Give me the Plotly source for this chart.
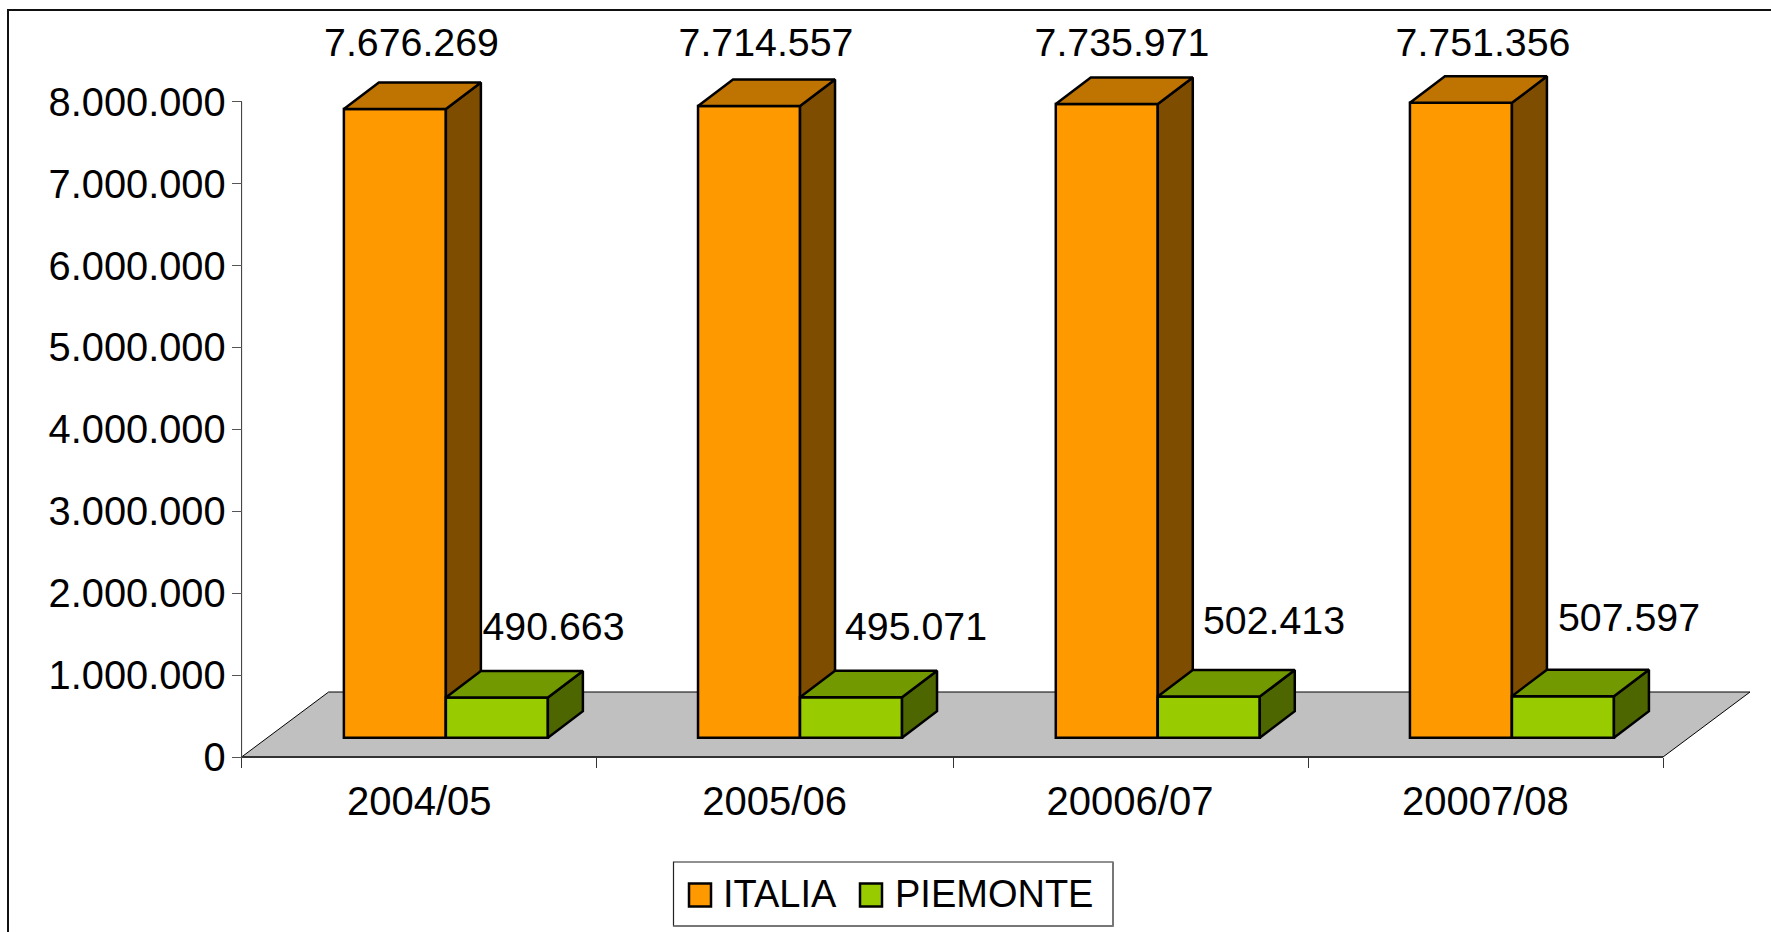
import plotly.graph_objects as go

W, H = 1771, 932

categories = ['2004/05', '2005/06', '20006/07', '20007/08']
italia = [7676269, 7714557, 7735971, 7751356]
piemonte = [490663, 495071, 502413, 507597]
italia_labels = ['7.676.269', '7.714.557', '7.735.971', '7.751.356']
piemonte_labels = ['490.663', '495.071', '502.413', '507.597']
y_ticks = [0, 1000000, 2000000, 3000000, 4000000, 5000000, 6000000, 7000000, 8000000]
y_tick_labels = ['0', '1.000.000', '2.000.000', '3.000.000', '4.000.000',
                 '5.000.000', '6.000.000', '7.000.000', '8.000.000']

# page pixels <-> axis units, the axes fill the whole page
X0_PX, Y0_PX = 241.6, 757
PX_PER_CAT = 355.35
PX_PER_UNIT = 81.9 / 1000000

def dx(px):
    return px / PX_PER_CAT

def dy(px):
    return px / PX_PER_UNIT

def px_x(px):
    return (px - X0_PX) / PX_PER_CAT

def px_y(px):
    return (Y0_PX - px) / PX_PER_UNIT

FONT = 'Liberation Sans'
EDGE = 2.5
BAR_W = dx(102)
DEPTH_X, DEPTH_Y = dx(35), dy(26.5)
FLOOR_X, FLOOR_Y = dx(87), dy(65)
LIFT_X, LIFT_Y = dx(26.6), dy(19.3)

# the original's columns aren't perfectly evenly spaced
nudge_px = [0, -1.2, 1.2, 0]
tick_nudge_px = [0, 0, 1.2, 1.2, 0]
centers = [i + 0.5 + LIFT_X + dx(nudge_px[i]) for i in range(len(categories))]


def faces(lefts, values):
    # side and top of each box, as polygons split by None
    sx, sy, tx, ty = [], [], [], []
    for left, v in zip(lefts, values):
        r = left + BAR_W
        top = LIFT_Y + v
        sx += [r, r + DEPTH_X, r + DEPTH_X, r, r, None]
        sy += [LIFT_Y, LIFT_Y + DEPTH_Y, top + DEPTH_Y, top, LIFT_Y, None]
        tx += [left, left + DEPTH_X, r + DEPTH_X, r, left, None]
        ty += [top, top + DEPTH_Y, top + DEPTH_Y, top, top, None]
    return sx, sy, tx, ty


def box(fig, name, lefts, values, front, side, top, z):
    sx, sy, tx, ty = faces(lefts, values)
    fig.add_trace(go.Bar(name=name, x=lefts, y=values, base=LIFT_Y, width=BAR_W, offset=0,
                         marker=dict(color=front, line=dict(color='black', width=EDGE)), zorder=z))
    for xs, ys, color in [(sx, sy, side), (tx, ty, top)]:
        fig.add_trace(go.Scatter(x=xs, y=ys, mode='lines', fill='toself', fillcolor=color,
                                 line=dict(color='black', width=EDGE), zorder=z))


fig = go.Figure()

# floor of the 3d plot
n = len(categories)
fig.add_trace(go.Scatter(x=[0, FLOOR_X, n + FLOOR_X, n, 0], y=[0, FLOOR_Y, FLOOR_Y, 0, 0],
                         mode='lines', fill='toself', fillcolor='#C0C0C0',
                         line=dict(color='black', width=1), zorder=0))
fig.add_trace(go.Scatter(x=[0, n], y=[0, 0], mode='lines', line=dict(color='#333333', width=2), zorder=0))
fig.add_trace(go.Scatter(x=[0, 0], y=[0, y_ticks[-1]], mode='lines', line=dict(color='#333333', width=1), zorder=0))

box(fig, 'ITALIA', [c - BAR_W for c in centers], italia, '#FF9900', '#7F4D00', '#BF7300', 1)
box(fig, 'PIEMONTE', centers, piemonte, '#99CC00', '#4D6600', '#739900', 2)

# value labels
it_x = [411.5, 766, 1122, 1483]
pi_x = [553.5, 916, 1274, 1629]
pi_y = [630, 630, 624, 621]
fig.add_trace(go.Scatter(x=[px_x(p) for p in it_x + pi_x],
                         y=[px_y(46)] * 4 + [px_y(p) for p in pi_y],
                         text=italia_labels + piemonte_labels, mode='text', textposition='middle center',
                         textfont=dict(family=FONT, size=39.3, color='black'), zorder=3))

# chart frame and hand drawn legend (plotly legend swatches can't get this big)
shapes = [
    dict(type='rect', xref='paper', yref='paper', x0=8 / W, x1=1.02, y0=-0.02, y1=1 - 10 / H,
         line=dict(color='#111111', width=2), fillcolor='rgba(0,0,0,0)', layer='below'),
    dict(type='rect', xref='paper', yref='paper', x0=673.5 / W, x1=1113 / W, y0=1 - 926 / H, y1=1 - 862 / H,
         line=dict(color='#222222', width=1.2), fillcolor='white'),
    dict(type='line', xref='paper', yref='paper', x0=673.5 / W, x1=1113.5 / W, y0=1 - 926 / H, y1=1 - 926 / H,
         line=dict(color='#777777', width=2)),
    dict(type='line', xref='paper', yref='paper', x0=1113 / W, x1=1113 / W, y0=1 - 926 / H, y1=1 - 862 / H,
         line=dict(color='#777777', width=2)),
    dict(type='rect', xref='paper', yref='paper', x0=689 / W, x1=711 / W, y0=1 - 906.5 / H, y1=1 - 883.5 / H,
         line=dict(color='black', width=EDGE), fillcolor='#FF9900'),
    dict(type='rect', xref='paper', yref='paper', x0=860 / W, x1=882 / W, y0=1 - 906.5 / H, y1=1 - 883.5 / H,
         line=dict(color='black', width=EDGE), fillcolor='#99CC00'),
]
annotations = [
    dict(text=t, xref='paper', yref='paper', x=px / W, y=1 - 893.5 / H, xanchor='left', yanchor='middle',
         showarrow=False, font=dict(family=FONT, size=38, color='black'))
    for t, px in [('ITALIA', 721), ('PIEMONTE', 892.5)]
]

fig.update_layout(
    width=W, height=H, margin=dict(l=0, r=0, t=0, b=0), autosize=False,
    barmode='overlay', showlegend=False, plot_bgcolor='white', paper_bgcolor='white',
    shapes=shapes, annotations=annotations, hovermode=False,
    xaxis=dict(range=[px_x(0), px_x(W)], domain=[0, 1], anchor='free', position=1 - Y0_PX / H,
               tickvals=[i + 0.5 for i in range(n)], ticktext=categories, ticks='', showgrid=False,
               zeroline=False, showline=False, ticklabelstandoff=17,
               tickfont=dict(family=FONT, size=40, color='black'),
               minor=dict(tickmode='array', tickvals=[i + dx(tick_nudge_px[i]) for i in range(n + 1)],
                          ticks='outside', ticklen=10, tickwidth=1, tickcolor='#333333', showgrid=False)),
    yaxis=dict(range=[px_y(H), px_y(0)], domain=[0, 1], anchor='free', position=X0_PX / W,
               tickvals=y_ticks, ticktext=y_tick_labels, ticks='outside', ticklen=10,
               tickwidth=1, tickcolor='#555555', showgrid=False, zeroline=False, showline=False,
               ticklabelstandoff=-2, tickfont=dict(family=FONT, size=39.8, color='black')),
)

fig.write_html("out.html", config=dict(displayModeBar=False),
               post_script="document.body.style.margin='0';document.body.style.overflow='hidden';")
